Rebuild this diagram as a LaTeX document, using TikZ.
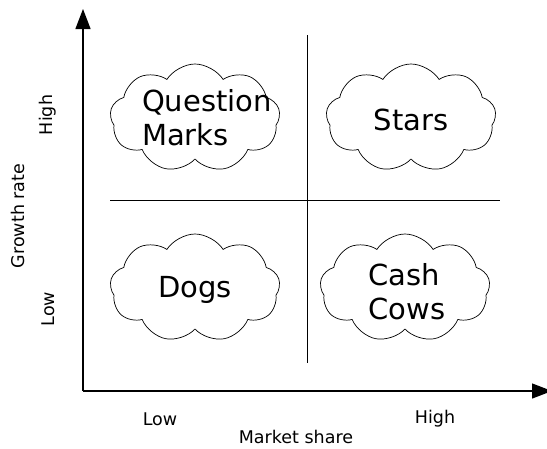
\documentclass[tikz,border=0pt]{standalone}
\usepackage{fontspec}
\setmainfont{DejaVu Sans}
\usetikzlibrary{shapes, shapes.symbols, arrows.meta, calc, positioning}

\tikzset{
    axis/.style={line width=1.3pt, -{Triangle[length=20pt, width=15pt]}},
    divider/.style={line width=0.9pt},
    bubble/.style={cloud, draw, line width=0.7pt, cloud puffs=9, cloud puff arc=115,
        cloud ignores aspect, minimum width=170pt, minimum height=108pt, inner sep=0pt},
    quadrant/.style={font=\fontsize{29}{34}\selectfont, align=left, inner sep=0pt},
    tick/.style={font=\fontsize{17.5}{20}\selectfont, inner sep=0pt},
}

\begin{document}
\begin{tikzpicture}[x=1pt, y=-1pt]
    \useasboundingbox (0,0) rectangle (547,448);

    % axes
    \coordinate (origin) at (83,391);
    \coordinate (ytop) at (83,9);
    \coordinate (xend) at (552,391);
    \draw[axis] (origin) -- (ytop);
    \draw[axis] (origin) -- (xend);

    % quadrant lines
    \coordinate (vtop) at (307,35);
    \coordinate (vbot) at (307,363);
    \coordinate (hleft) at (110,200);
    \coordinate (hright) at (500,200);
    \draw[divider] (vtop) -- (vbot);
    \draw[divider] (hleft) -- (hright);

    % the four clouds
    \node[bubble] (qm) at (195,118) {};
    \node[bubble] (stars) at (411,118) {};
    \node[bubble] (dogs) at (195,288) {};
    \node[bubble] (cows) at (405,288) {};

    \node[quadrant] (qmtext) at ($(qm)+(12,0)$) {Question\\Marks};
    \node[quadrant] (starstext) at ($(stars)+(0,2)$) {Stars};
    \node[quadrant] (dogstext) at ($(dogs)+(0,2)$) {Dogs};
    \node[quadrant] (cowstext) at ($(cows)+(2,4)$) {Cash\\Cows};

    % axis labels
    \node[tick, rotate=90] (yhigh) at (48,115) {High};
    \node[tick, rotate=90] (ylow) at (48,309) {Low};
    \node[tick, rotate=90] (ylabel) at (18,216) {Growth rate};
    \node[tick] (xlow) at (160,419) {Low};
    \node[tick] (xhigh) at (435,419) {High};
    \node[tick] (xlabel) at (296,437) {Market share};
\end{tikzpicture}
\end{document}
